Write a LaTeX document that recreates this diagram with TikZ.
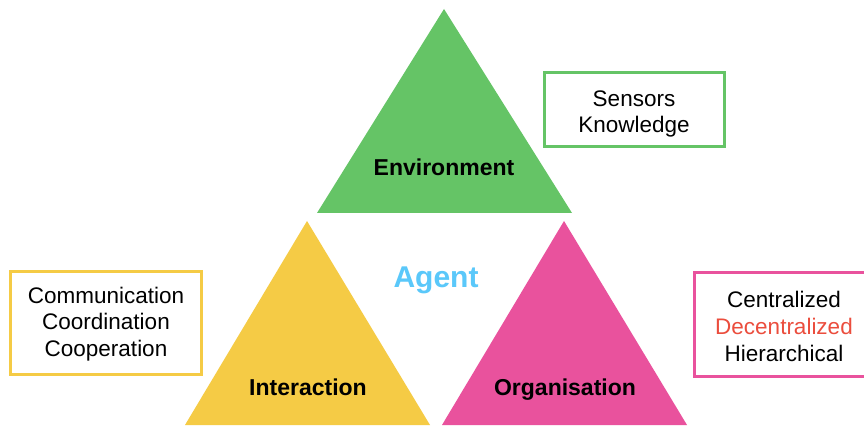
\documentclass[tikz,border=0pt]{standalone}
\usepackage{fontspec}
\setmainfont{Liberation Sans}
\definecolor{tgreen}{HTML}{65C466}
\definecolor{tyellow}{HTML}{F5CB45}
\definecolor{tpink}{HTML}{E9529D}
\definecolor{tred}{HTML}{EB4D3D}
\definecolor{tblue}{HTML}{5AC8FA}
\tikzset{
  trilabel/.style={font=\fontsize{23}{27}\selectfont\bfseries, text=black, inner sep=0pt, anchor=base},
  listbox/.style={line width=3pt},
  listtext/.style={font=\fontsize{22.5}{26.5}\selectfont, align=center, inner sep=0pt, text=black}
}
\begin{document}
\begin{tikzpicture}[x=1pt,y=-1pt]
\useasboundingbox (0,0) rectangle (864,427);
\fill[white] (0,0) rectangle (864,427);
% triangles
\fill[tgreen] (444,9) -- (572,213) -- (317,213) -- cycle;
\fill[tyellow] (307,221) -- (430,425) -- (185,425) -- cycle;
\fill[tpink] (564,221) -- (687,425) -- (442,425) -- cycle;
% labels
\node[trilabel] (env) at (444,176) {Environment};
\node[trilabel] (inter) at (308,395) {Interaction};
\node[trilabel] (org) at (565,395) {Organisation};
\node[font=\fontsize{30}{34}\selectfont\bfseries, text=tblue, inner sep=0pt, anchor=base] (agent) at (436,288) {Agent};
% boxes
\draw[listbox, draw=tgreen] (544,73) rectangle (724,147);
\node[listtext] (envlist) at (634,114) {Sensors\\Knowledge};
\draw[listbox, draw=tyellow] (10,272) rectangle (201,374);
\node[listtext] (interlist) at (106,324) {Communication\\Coordination\\Cooperation};
\draw[listbox, draw=tpink] (694,273) rectangle (876,376);
\node[listtext, font=\fontsize{22.5}{27}\selectfont] (orglist) at (784,326) {Centralized\\\textcolor{tred}{Decentralized}\\Hierarchical};
\end{tikzpicture}
\end{document}
